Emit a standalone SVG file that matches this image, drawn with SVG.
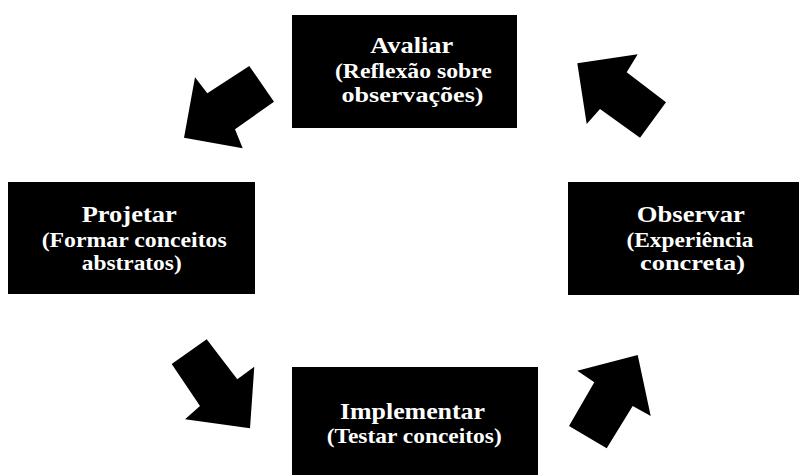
<svg xmlns="http://www.w3.org/2000/svg" width="799" height="475" viewBox="0 0 799 475">
<style>
.box{fill:#000;}
.arr{fill:#000;}
text{fill:#fff;font-family:"Liberation Serif","Times New Roman",serif;font-weight:bold;text-anchor:middle;}
.t{font-size:24px;}
.s{font-size:22px;}
</style>
<rect width="799" height="475" fill="#fff"/>
<g id="connectors">
<polygon class="arr" points="249.3,66 274,101.7 235,129.3 242.7,148.3 184,137.7 195,77.3 207.3,93.3"/>
<polygon class="arr" points="577.3,63.3 637.7,54.3 626.7,72.3 666,102.3 640,137.7 600,109 586.7,124"/>
<polygon class="arr" points="206.7,339.3 171.7,364 200,406 185,419.3 250,428.3 254.3,366.7 237.3,379.3"/>
<polygon class="arr" points="637.7,355 650.7,416 632.7,406 606.7,448.3 569,426 594.3,382.3 577.3,370.7"/>
</g>
<g id="avaliar">
<rect class="box" x="292" y="15" width="225" height="113"/>
<text class="t" x="411.7" y="53.3" textLength="83" lengthAdjust="spacingAndGlyphs">Avaliar</text>
<text class="s" x="413.4" y="78.3" textLength="157" lengthAdjust="spacingAndGlyphs">(Reflexão sobre</text>
<text class="s" x="412.5" y="101.7" textLength="142" lengthAdjust="spacingAndGlyphs">observações)</text>
</g>
<g id="projetar">
<rect class="box" x="8" y="182" width="247" height="112"/>
<text class="t" x="129.2" y="221.7" textLength="95" lengthAdjust="spacingAndGlyphs">Projetar</text>
<text class="s" x="134.2" y="246.7" textLength="185" lengthAdjust="spacingAndGlyphs">(Formar conceitos</text>
<text class="s" x="131.7" y="270" textLength="100" lengthAdjust="spacingAndGlyphs">abstratos)</text>
</g>
<g id="observar">
<rect class="box" x="568" y="182" width="244" height="113"/>
<text class="t" x="690.8" y="221.7" textLength="108" lengthAdjust="spacingAndGlyphs">Observar</text>
<text class="s" x="690" y="246.7" textLength="127" lengthAdjust="spacingAndGlyphs">(Experiência</text>
<text class="s" x="692.5" y="270" textLength="105" lengthAdjust="spacingAndGlyphs">concreta)</text>
</g>
<g id="implementar">
<rect class="box" x="292" y="367" width="246" height="120"/>
<text class="t" x="412.5" y="419.3" textLength="145" lengthAdjust="spacingAndGlyphs">Implementar</text>
<text class="s" x="414.2" y="442.7" textLength="175" lengthAdjust="spacingAndGlyphs">(Testar conceitos)</text>
</g>
</svg>
